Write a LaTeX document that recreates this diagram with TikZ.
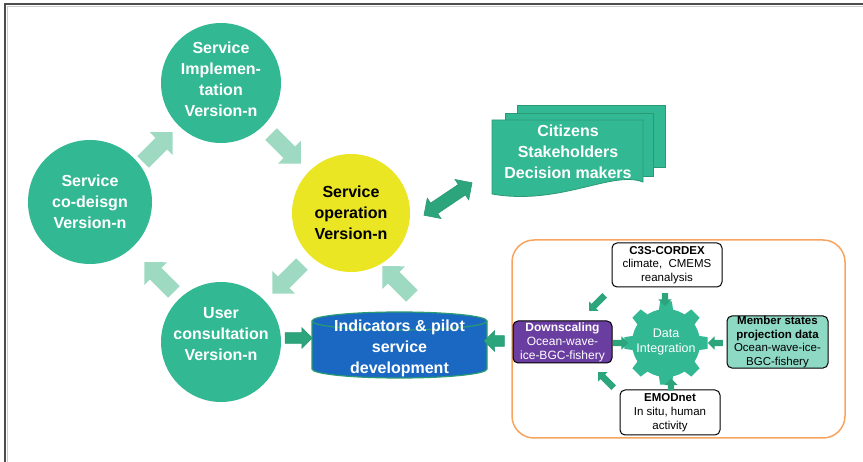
\documentclass[tikz,border=0pt]{standalone}
\usepackage{fontspec}
\setmainfont{Liberation Sans}
\usetikzlibrary{shapes.arrows}
\definecolor{cgreen}{HTML}{33B894}
\definecolor{lgreen}{HTML}{9ED9C2}
\definecolor{dgreen}{HTML}{2CA57C}
\definecolor{cyellow}{HTML}{EBE623}
\definecolor{cblue}{HTML}{1A68C2}
\definecolor{cpurple}{HTML}{6A3EA1}
\definecolor{cteal}{HTML}{8DD9C4}
\definecolor{corange}{HTML}{F7A45E}
\definecolor{sheetline}{HTML}{2A9A74}
\begin{document}
\begin{tikzpicture}[x=1pt,y=-1pt,
  bigc/.style={circle, fill=cgreen, minimum size=120pt, inner sep=0pt},
  ctext/.style={text=white, font=\fontsize{16}{21}\selectfont\bfseries, align=center, inner sep=0pt},
  larr/.style={single arrow, fill=lgreen, draw=none, inner sep=8pt, single arrow head extend=8pt, minimum height=42pt},
  darr/.style={single arrow, fill=dgreen, draw=sheetline, line width=0.6pt, inner sep=5pt, single arrow head extend=5pt},
  sarr/.style={single arrow, fill=dgreen, draw=none, inner sep=3pt, single arrow head extend=3.5pt},
  sbox/.style={rectangle, rounded corners=5pt, draw=black, line width=1pt, inner sep=0pt, align=center, font=\fontsize{11.5}{13.8}\selectfont},
]
\useasboundingbox (0,0) rectangle (863,462);
% frame
\draw[gray!60!black, line width=1.6pt] (5,462) -- (5,4) -- (863,4);
\draw[gray!40, line width=0.8pt] (7,462) -- (7,6.5) -- (863,6.5);

% circles
\node[bigc] (impl) at (221,83) {};
\node[ctext] at (impl.center) [yshift=4pt] {Service\\Implemen-\\tation\\Version-n};
\node[bigc, minimum size=124pt] (codes) at (90,202) {};
\node[ctext] at (codes.center) {Service\\co-deisgn\\Version-n};
\node[bigc] (user) at (221,342) {};
\node[ctext] at (221,334) {User\\consultation\\Version-n};
\node[bigc, fill=cyellow, minimum size=118pt] (oper) at (351,213) {};
\node[ctext, text=black] at (oper.center) {Service\\operation\\Version-n};

% light cycle arrows
\node[larr, rotate=45] (la1) at (155,150) {};
\node[larr, rotate=-45] (la2) at (283,146) {};
\node[larr, rotate=-135] (la3) at (290,276) {};
\node[larr, rotate=135] (la4) at (162,280) {};
\node[larr, rotate=135] (la5) at (400,284) {};

% cylinder
\begin{scope}[shift={(399.5,345)}, y=1pt]
\filldraw[fill=cblue, draw=sheetline, line width=1.2pt] (-87.5,24) -- (-87.5,-24) arc[start angle=180,end angle=360,x radius=87.5,y radius=9] -- (87.5,24) arc[start angle=0,end angle=180,x radius=87.5,y radius=9] -- cycle;
\draw[sheetline, line width=1.2pt] (87.5,24) arc[start angle=0,end angle=-180,x radius=87.5,y radius=9];
\end{scope}
\node[ctext] (ind) at (399.5,348) {Indicators \& pilot\\service\\development};

% documents
\filldraw[fill=cgreen, draw=sheetline, line width=0.8pt] (517,105) rectangle (665,167);
\filldraw[fill=cgreen, draw=sheetline, line width=0.8pt] (505,113) rectangle (653,176);
\filldraw[fill=cgreen, draw=sheetline, line width=0.8pt] (492,120) -- (643,120) -- (643,182) .. controls (612,170) and (560,206) .. (492,194) -- cycle;
\node[ctext] (cit) at (568,152) {Citizens\\Stakeholders\\Decision makers};

% dark arrows
\node[darr, minimum height=27pt] (d1) at (296,338) {};
\node[darr, minimum height=20pt, rotate=180] (d2) at (497,341) {};
\node[double arrow, fill=dgreen, draw=sheetline, line width=0.6pt, inner sep=6pt, double arrow head extend=6pt, minimum height=58pt, rotate=34] (dbl) at (448,199) {};

% orange box
\draw[corange, line width=1.5pt, rounded corners=22pt] (512,240) rectangle (845,438);

% gear
\begin{scope}[shift={(666,343)}, y=1pt]
\fill[cgreen] (67.5:34) \foreach \i in {0,...,7} {
  arc[start angle={67.5+45*\i}, end angle={78+45*\i}, radius=34]
  -- ({82+45*\i}:42) -- ({98+45*\i}:42) -- ({102+45*\i}:34)
  arc[start angle={102+45*\i}, end angle={112.5+45*\i}, radius=34] } -- cycle;
\end{scope}
\node[text=white, font=\fontsize{12.5}{14.5}\selectfont, align=center] (gear) at (666,342) {Data\\Integration};

% small boxes
\node[sbox, fill=white, minimum width=110pt, minimum height=44pt] (c3s) at (667,265) {\textbf{C3S-CORDEX}\\climate,\ \ CMEMS\\reanalysis};
\node[sbox, fill=cpurple, text=white, minimum width=99pt, minimum height=42pt, font=\fontsize{12}{14}\selectfont] (down) at (562.5,342) {\textbf{Downscaling}\\Ocean-wave-\\ice-BGC-fishery};
\node[sbox, fill=cteal, minimum width=101pt, minimum height=50pt] (memb) at (777.5,342) {\textbf{Member states}\\\textbf{projection data}\\Ocean-wave-ice-\\BGC-fishery};
\node[sbox, fill=white, minimum width=100pt, minimum height=45pt] (emod) at (670,412.5) {\textbf{EMODnet}\\In situ, human\\activity};

% small arrows
\node[sarr, minimum height=22pt, rotate=-135] (s1) at (598,302) {};
\node[sarr, minimum height=13pt, rotate=-90] (s2) at (665,298) {};
\node[sarr, minimum height=15pt] (s3) at (619,343) {};
\node[sarr, minimum height=15pt, rotate=180] (s4) at (717,343) {};
\node[sarr, minimum height=12pt, rotate=90] (s5) at (671,386) {};
\node[sarr, minimum height=22pt, rotate=135] (s6) at (607,381) {};
\end{tikzpicture}
\end{document}
